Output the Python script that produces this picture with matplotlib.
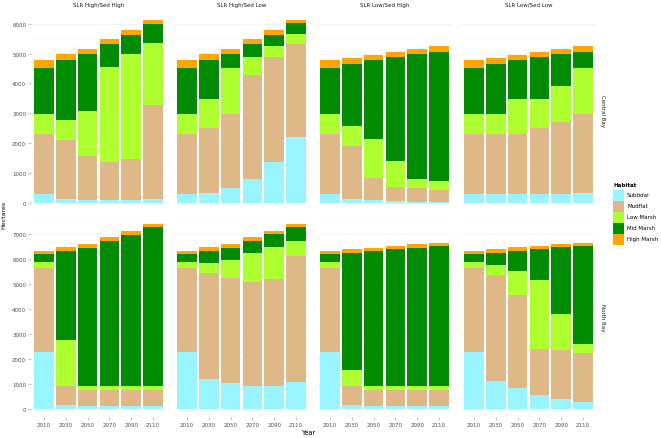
import matplotlib
matplotlib.use("Agg")
import matplotlib.pyplot as plt
import numpy as np
from matplotlib.patches import Rectangle

years = ["2010", "2030", "2050", "2070", "2090", "2110"]
habitats = ["Subtidal", "Mudflat", "Low Marsh", "Mid Marsh", "High Marsh"]
colors = ["#98F5FF", "#DEB887", "#ADFF2F", "#008B00", "#FFA500"]
scenarios = ["SLR High/Sed High", "SLR High/Sed Low", "SLR Low/Sed High", "SLR Low/Sed Low"]
regions = ["Central Bay", "North Bay"]

# rows: Subtidal, Mudflat, Low Marsh, Mid Marsh, High Marsh ; columns: years
central_hh = [[290, 130, 90, 90, 90, 120],
              [2020, 1960, 1460, 1260, 1390, 3160],
              [680, 680, 1540, 3220, 3510, 2090],
              [1520, 2010, 1890, 770, 640, 640],
              [270, 200, 180, 150, 160, 130]]
central_hl = [[290, 330, 490, 780, 1380, 2190],
              [2020, 2170, 2500, 3490, 3510, 3150],
              [680, 970, 1520, 610, 360, 310],
              [1520, 1310, 470, 460, 380, 370],
              [270, 200, 180, 150, 160, 120]]
central_lh = [[290, 130, 80, 55, 35, 35],
              [2020, 1760, 760, 475, 450, 385],
              [680, 690, 1310, 860, 325, 310],
              [1520, 2080, 2630, 3490, 4170, 4330],
              [270, 210, 190, 180, 180, 190]]
central_ll = [[290, 290, 290, 290, 290, 330],
              [2020, 2020, 2020, 2210, 2420, 2660],
              [680, 680, 1160, 970, 1220, 1520],
              [1520, 1670, 1310, 1410, 1050, 550],
              [270, 210, 190, 180, 180, 190]]
north_hh = [[2290, 170, 110, 110, 110, 110],
            [3330, 750, 660, 660, 660, 660],
            [240, 1850, 130, 130, 130, 130],
            [330, 3550, 5540, 5820, 6060, 6380],
            [130, 130, 130, 130, 160, 110]]
north_hl = [[2290, 1200, 1020, 920, 920, 1060],
            [3330, 4240, 4210, 4160, 4270, 5060],
            [240, 400, 730, 1160, 1280, 600],
            [330, 480, 480, 480, 520, 560],
            [130, 130, 130, 130, 130, 110]]
north_lh = [[2290, 170, 110, 110, 110, 110],
            [3330, 750, 660, 660, 660, 660],
            [240, 640, 140, 140, 140, 140],
            [330, 4680, 5400, 5470, 5530, 5590],
            [130, 150, 130, 120, 140, 130]]
north_ll = [[2290, 1130, 850, 560, 400, 270],
            [3330, 4220, 3710, 1820, 1960, 1970],
            [240, 400, 960, 2770, 1450, 360],
            [330, 490, 800, 1240, 2640, 3910],
            [130, 150, 130, 120, 140, 130]]

panels = [[central_hh, central_hl, central_lh, central_ll],
          [north_hh, north_hl, north_lh, north_ll]]

W, H = 661, 439
fig = plt.figure(figsize=(W / 100, H / 100), dpi=100)
fig.patch.set_facecolor("white")

lefts = [31, 174, 317, 461]
pw = 135
rows_y = [(10, 212), (218, 418)]
ylims = [(-280, 6430), (-320, 7665)]
yticks = [np.arange(0, 6001, 1000), np.arange(0, 7001, 1000)]
tick_col = "#4D4D4D"
fs = 4.0

def add_ax(x0, y0, x1, y1):
    return fig.add_axes([x0 / W, 1 - y1 / H, (x1 - x0) / W, (y1 - y0) / H])

for r in range(2):
    for c in range(4):
        y0, y1 = rows_y[r]
        ax = add_ax(lefts[c], y0, lefts[c] + pw, y1)
        data = np.array(panels[r][c], dtype=float)
        x = np.arange(len(years))
        bottom = np.zeros(len(years))
        for h in range(len(habitats)):
            ax.bar(x, data[h], bottom=bottom, width=0.9, color=colors[h],
                   edgecolor="none", linewidth=0, zorder=3)
            bottom += data[h]
        ax.set_xlim(-0.6, len(years) - 0.4)
        ax.set_ylim(*ylims[r])
        ax.set_yticks(yticks[r])
        ax.set_yticks(np.arange(500, yticks[r][-1] + 600, 1000), minor=True)
        ax.grid(True, axis="y", which="major", color="#F0F0F0", linewidth=0.5, zorder=0)
        ax.grid(True, axis="y", which="minor", color="#F7F7F7", linewidth=0.35, zorder=0)
        ax.set_xticks(x)
        ax.set_xticklabels(years)
        for s in ax.spines.values():
            s.set_visible(False)
        ax.tick_params(axis="both", which="major", length=2.0, width=0.4, color="#999999",
                       labelsize=fs, labelcolor=tick_col, pad=1.5)
        ax.tick_params(axis="both", which="minor", length=0)
        if c != 0:
            ax.tick_params(axis="y", which="major", length=0, labelleft=False)
        if r != 1:
            ax.tick_params(axis="x", length=0, labelbottom=False)
        if r == 0:
            ax.set_title(scenarios[c], fontsize=fs, color="#1A1A1A", pad=2.2)
        if c == 3:
            ax.text(1.045, 0.5, regions[r], transform=ax.transAxes, rotation=270,
                    ha="center", va="center", fontsize=fs, color="#1A1A1A")

fig.text(4 / W, 1 - 215 / H, "Hectares", rotation=90, ha="center", va="center",
         fontsize=4.5, color="black")
fig.text(309 / W, 1 - 433 / H, "Year", ha="center", va="center",
         fontsize=4.8, color="black")

# legend
fig.text(613 / W, 1 - 186 / H, "Habitat", ha="left", va="center", fontsize=fs,
         fontweight="bold", color="black")
for i, (lab, col) in enumerate(zip(habitats, colors)):
    top = 190.5 + i * 11
    fig.patches.append(Rectangle((613 / W, 1 - (top + 11) / H), 11 / W, 11 / H,
                                 transform=fig.transFigure, facecolor=col,
                                 edgecolor="none", figure=fig))
    fig.text(627 / W, 1 - (top + 5.5) / H, lab, ha="left", va="center",
             fontsize=fs, color="black")

fig.savefig("out.png", dpi=100, facecolor="white")
